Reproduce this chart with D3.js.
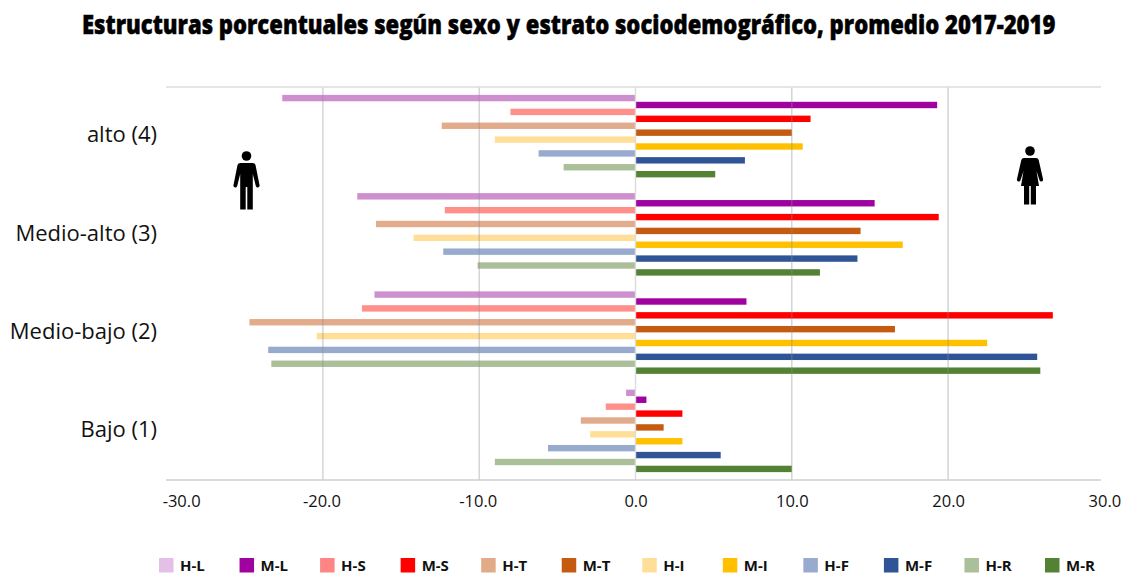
<!DOCTYPE html>
<html><head><meta charset="utf-8">
<script src="https://cdn.jsdelivr.net/npm/d3@7/dist/d3.min.js"></script>
<style>html,body{margin:0;padding:0;background:#fff;overflow:hidden}</style>
</head><body><svg id="c" width="1123" height="576"></svg>
<script>
const titleText = "Estructuras porcentuales según sexo y estrato sociodemográfico, promedio 2017-2019";
const strata = ["alto (4)", "Medio-alto (3)", "Medio-bajo (2)", "Bajo (1)"];
const seriesNames = ["H-L","M-L","H-S","M-S","H-T","M-T","H-I","M-I","H-F","M-F","H-R","M-R"];
const legendColors = ["#E4BFE7","#A0029F","#FF8585","#FF0000","#E2AB88","#C55A11","#FFDF97","#FFC000","#98ABCE","#2F5597","#ABC099","#548235"];
const barColors = ["#CE8FCF","#A0029F","#FF8F8B","#FF0000","#E2AB8C","#C55A11","#FFDF97","#FFC000","#98ABCE","#2F5597","#ABC099","#548235"];
const alto = [-22.6,19.3,-8.0,11.2,-12.4,10.0,-9.0,10.7,-6.2,7.0,-4.6,5.1];
const medioAlto = [-17.8,15.3,-12.2,19.4,-16.6,14.4,-14.2,17.1,-12.3,14.2,-10.1,11.8];
const medioBajo = [-16.7,7.1,-17.5,26.7,-24.7,16.6,-20.4,22.5,-23.5,25.7,-23.3,25.9];
const bajo = [-0.6,0.7,-1.9,3.0,-3.5,1.8,-2.9,3.0,-5.6,5.45,-9.0,10.0];
const values = [alto, medioAlto, medioBajo, bajo];
const ticks = [-30,-20,-10,0,10,20,30];

const svg = d3.select("#c");
const x = d3.scaleLinear().domain([-30,30]).range([166.6,1104.4]);
const y0 = d3.scaleBand().domain(strata).range([87,480]);
const y1 = d3.scaleBand().domain(seriesNames).range([-41.5,41.5]);
const barH = 6.4;
const labelFont = "'Open Sans', sans-serif";

const t = svg.append("text").attr("font-family",labelFont).attr("font-weight",800).attr("font-size",27)
  .attr("fill","#000").attr("stroke","#000").attr("stroke-width",0.5).text(titleText);
const sx = 974 / t.node().getComputedTextLength();
t.attr("transform",`translate(82,33.5) scale(${sx},1)`);

// bars
strata.forEach((s,i)=>{
  svg.append("g").attr("transform",`translate(0,${y0(s)+y0.bandwidth()/2})`)
    .selectAll("rect").data(values[i]).join("rect")
    .attr("x",d=>Math.min(x(0),x(d))).attr("width",d=>Math.abs(x(d)-x(0)))
    .attr("y",(d,j)=>y1(seriesNames[j])+y1.bandwidth()/2-barH/2).attr("height",barH)
    .attr("fill",(d,j)=>barColors[j]);
});

// gridlines
svg.append("g").selectAll("line").data(ticks.filter(t=>Math.abs(t)<30)).join("line")
  .attr("x1",d=>x(d)).attr("x2",d=>x(d)).attr("y1",87).attr("y2",480)
  .attr("stroke",d=>d===0?"#dcdcdc":"#8c8c8c").attr("stroke-opacity",d=>d===0?1:0.4).attr("stroke-width",1.4);
// frame lines
svg.append("line").attr("x1",166).attr("x2",1101).attr("y1",87).attr("y2",87).attr("stroke","#dcdcdc").attr("stroke-width",1.6);
svg.append("line").attr("x1",166).attr("x2",1101).attr("y1",480).attr("y2",480).attr("stroke","#cfcfcf").attr("stroke-width",1.6);

// x axis labels
const fmt = d3.format(".1f");
const axis = d3.axisBottom(x).tickValues(ticks).tickSize(0).tickPadding(0);
const ax = svg.append("g").attr("transform","translate(0,487)").call(axis);
ax.select(".domain").remove();
ax.selectAll("text").attr("dy",0).attr("y",20).attr("font-family",labelFont).attr("font-size",16.5).attr("fill","#111")
  .attr("x",d=>d===-30?14.5:(d===-20||d===-10?-1.5:0))
  .text(d=>fmt(d).replace("\u2212","-"));

// category labels
svg.append("g").selectAll("text").data(strata).join("text")
  .attr("x",157).attr("y",d=>y0(d)+y0.bandwidth()/2+6.2).attr("text-anchor","end")
  .attr("font-family",labelFont).attr("font-size",22).attr("fill","#111").text(d=>d);

// legend
const legendX = d3.scalePoint().domain(seriesNames).range([159,1045]);
const lg = svg.append("g").selectAll("g").data(seriesNames).join("g")
  .attr("transform",d=>`translate(${legendX(d)},558)`);
lg.append("rect").attr("width",14.5).attr("height",14.5).attr("fill",(d,i)=>legendColors[i]);
lg.append("text").attr("x",21).attr("y",12.5).attr("font-family",labelFont).attr("font-weight",700)
  .attr("font-size",15).attr("fill","#111").text(d=>d);

// pictograms
function man(g){
  g.append("circle").attr("cx",0).attr("cy",-29).attr("r",4.8);
  g.append("path").attr("d","M-6,-22 Q-8.5,-22 -9,-20 L-13,0 Q-13.5,2 -11.5,2.5 Q-10,2.8 -9.3,1 L-6.3,-11 L-6.3,24.5 L-0.8,24.5 L-0.8,2 L0.8,2 L0.8,24.5 L6.3,24.5 L6.3,-11 L9.3,1 Q10,2.8 11.5,2.5 Q13.5,2 13,0 L9,-20 Q8.5,-22 6,-22 Z");
}
function woman(g){
  g.append("circle").attr("cx",0).attr("cy",-29).attr("r",4.8);
  g.append("path").attr("d","M-6,-22 Q-8,-22 -8.7,-20 L-13,-1 Q-13.5,1 -11.7,1.5 Q-10,1.8 -9.5,0.2 L-6.5,-9 L-9,6 L-6,6 L-6,24.5 L-0.8,24.5 L-0.8,6 L0.8,6 L0.8,24.5 L6,24.5 L6,6 L9,6 L6.5,-9 L9.5,0.2 Q10,1.8 11.7,1.5 Q13.5,1 13,-1 L8.7,-20 Q8,-22 6,-22 Z");
}
man(svg.append("g").attr("transform","translate(246.5,185)"));
woman(svg.append("g").attr("transform","translate(1030,180)"));
</script></body></html>
